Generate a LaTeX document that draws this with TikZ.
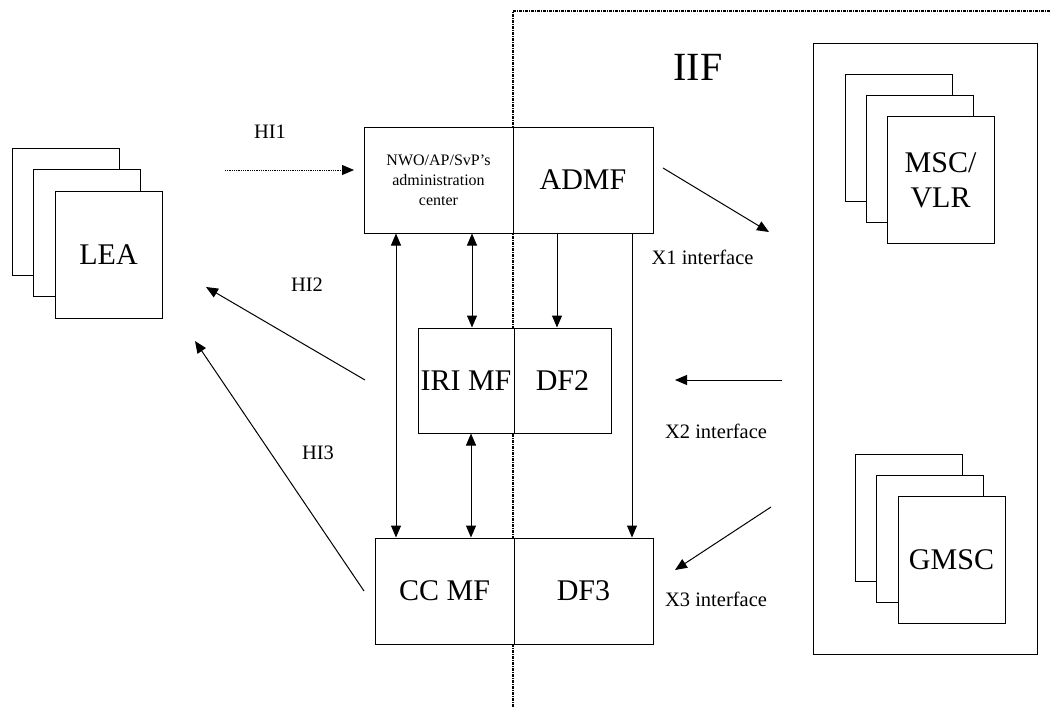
\documentclass[tikz,border=0pt]{standalone}
\usepackage{fontspec}
\setmainfont{Liberation Serif}
\usetikzlibrary{arrows.meta}
\begin{document}
\begin{tikzpicture}[x=1pt,y=-1pt,line width=1pt,
  rbox/.style={draw,fill=white,inner sep=0pt,minimum width=#1},
  stackbox/.style={draw,fill=white,inner sep=0pt,minimum width=107pt,minimum height=127pt},
  bigtxt/.style={font=\fontsize{30}{35}\selectfont},
  smalltxt/.style={font=\fontsize{20.5}{22}\selectfont},
  arr/.style={-{Triangle[length=12pt,width=10pt]}},
  dblarr/.style={{Triangle[length=12pt,width=10pt]}-{Triangle[length=12pt,width=10pt]}},
  border/.style={line width=1.2pt,dash pattern=on 3pt off 1pt on 1pt off 1pt}
]
\useasboundingbox (0,0) rectangle (1051,707);

% IIF border
\coordinate (bcorner) at (513,11);
\coordinate (bbottom) at (513,707);
\coordinate (bright) at (1051,11);
\draw[border] (bbottom) -- (bcorner) -- (bright);

% LEA stack
\node[stackbox] (lea3) at (65.5,211.5) {};
\node[stackbox] (lea2) at (87,233) {};
\node[stackbox,bigtxt] (lea1) at (108.5,254.5) {LEA};

% main boxes
\node[rbox=149pt,minimum height=106pt,align=center,font=\fontsize{16}{20}\selectfont] (admfL) at (438.5,180) {NWO/AP/SvP's\\administration\\center};
\node[rbox=140pt,minimum height=106pt,bigtxt] (admfR) at (583,180) {ADMF};
\node[rbox=96pt,minimum height=105pt,bigtxt] (iriL) at (466,380.5) {IRI MF};
\node[rbox=97pt,minimum height=105pt,bigtxt] (iriR) at (562.5,380.5) {DF2};
\node[rbox=139pt,minimum height=106pt,bigtxt] (ccL) at (444.5,591) {CC MF};
\node[rbox=139pt,minimum height=106pt,bigtxt] (ccR) at (583.5,591) {DF3};

% right network box
\node[rbox=224pt,minimum height=611pt] (net) at (925,348.5) {};
\node[stackbox] (msc3) at (898.5,138) {};
\node[stackbox] (msc2) at (919.5,159) {};
\node[stackbox,bigtxt,align=center] (msc1) at (940.5,180) {MSC/\\VLR};
\node[stackbox] (gmsc3) at (908.5,517.5) {};
\node[stackbox] (gmsc2) at (930,539) {};
\node[stackbox,bigtxt] (gmsc1) at (951.5,560) {GMSC};

% labels
\node[font=\fontsize{40}{42}\selectfont] (iif) at (698,67) {IIF};
\node[smalltxt] (lhi1) at (270,132) {HI1};
\node[smalltxt] (lhi2) at (307,285) {HI2};
\node[smalltxt] (lhi3) at (318,453) {HI3};
\node[smalltxt] (lx1) at (702.5,257) {X1 interface};
\node[smalltxt] (lx2) at (716,431) {X2 interface};
\node[smalltxt] (lx3) at (716,599) {X3 interface};

% handover arrows
\coordinate (hi1a) at (225,170);
\coordinate (hi1b) at (354,170);
\draw[arr,densely dotted,line width=0.8pt] (hi1a) -- (hi1b);
\coordinate (hi2a) at (365,380);
\coordinate (hi2b) at (206,287);
\draw[arr] (hi2a) -- (hi2b);
\coordinate (hi3a) at (364,591);
\coordinate (hi3b) at (195,341);
\draw[arr] (hi3a) -- (hi3b);

% X interfaces
\coordinate (x1a) at (663,168);
\coordinate (x1b) at (769,232);
\draw[arr] (x1a) -- (x1b);
\coordinate (x2a) at (782,380);
\coordinate (x2b) at (675,380);
\draw[arr] (x2a) -- (x2b);
\coordinate (x3a) at (771,507);
\coordinate (x3b) at (675,570);
\draw[arr] (x3a) -- (x3b);

% internal vertical arrows
\coordinate (v1) at (396,0);
\coordinate (v2) at (472,0);
\coordinate (v3) at (471,0);
\coordinate (v4) at (557,0);
\coordinate (v5) at (632,0);
\draw[dblarr] (admfL.south -| v1) -- (ccL.north -| v1);
\draw[dblarr] (admfL.south -| v2) -- (iriL.north -| v2);
\draw[dblarr] (iriL.south -| v3) -- (ccL.north -| v3);
\draw[arr] (admfR.south -| v4) -- (iriR.north -| v4);
\draw[arr] (admfR.south -| v5) -- (ccR.north -| v5);
\end{tikzpicture}
\end{document}
